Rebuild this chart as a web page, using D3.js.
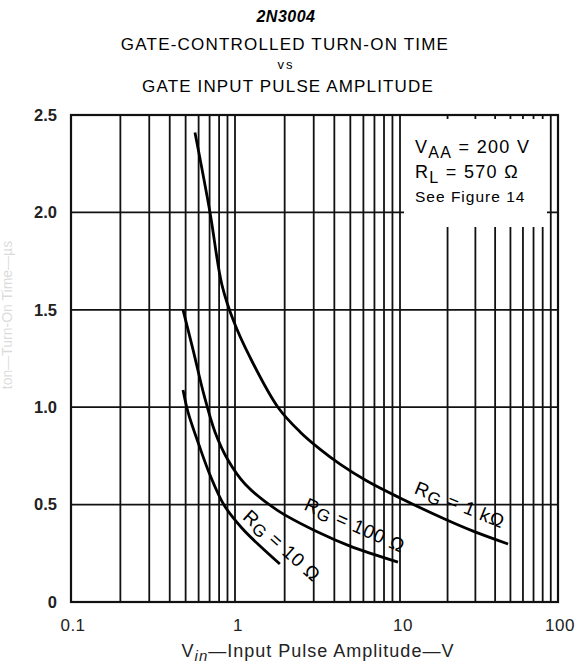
<!DOCTYPE html>
<html>
<head>
<meta charset="utf-8">
<script src="https://cdn.jsdelivr.net/npm/d3@7"></script>
<style>
  body { margin: 0; background: #fff; }
  svg { font-family: "Liberation Sans", Arial, sans-serif; }
</style>
</head>
<body>
<div id="chart"></div>
<script>
// curve readings (Vin in volts, turn-on time in µs)
const rg1kX = [0.57, 0.704, 0.833, 0.986, 1.23, 1.82, 2.48, 3.27, 4.33, 6.31, 10, 19.8, 29, 48.3];
const rg1kY = [2.41, 2.0, 1.627, 1.437, 1.258, 1.0, 0.873, 0.785, 0.708, 0.621, 0.534, 0.421, 0.364, 0.298];
const rg100X = [0.482, 0.555, 0.647, 0.755, 0.906, 1.15, 1.80, 3.27, 4.98, 9.72];
const rg100Y = [1.5, 1.294, 1.063, 0.873, 0.729, 0.606, 0.472, 0.354, 0.287, 0.205];
const rg10X = [0.482, 0.517, 0.603, 0.704, 0.857, 1.10, 1.44, 1.87];
const rg10Y = [1.088, 0.975, 0.806, 0.652, 0.498, 0.380, 0.282, 0.195];

const xTicks = [0.1, 1, 10, 100];
const xTickLabels = ["0.1", "1", "10", "100"];
const yTicks = [0, 0.5, 1.0, 1.5, 2.0, 2.5];
const yTickLabels = ["0", "0.5", "1.0", "1.5", "2.0", "2.5"];

const curveLabels = [
  { name: "1 kΩ", x: 24, y: 0.50, angle: 22 },
  { name: "100 Ω", x: 5.33, y: 0.395, angle: 24 },
  { name: "10 Ω", x: 1.93, y: 0.29, angle: 42 }
];

const width = 577, height = 666;

const svg = d3.select("#chart").append("svg")
  .attr("width", width)
  .attr("height", height);

// scanned paper: decades are not quite even, so piecewise log scale
const x = d3.scaleLog()
  .domain([0.1, 1, 10, 100])
  .range([71, 235, 400, 558]);
const y = d3.scaleLinear()
  .domain([0, 2.5])
  .range([602, 115]);

// titles
svg.append("text").attr("x", 286).attr("y", 22)
  .attr("text-anchor", "middle").attr("font-size", 16)
  .attr("font-weight", "bold").attr("font-style", "italic")
  .attr("letter-spacing", 0.5)
  .text("2N3004");
svg.append("text").attr("x", 285).attr("y", 50)
  .attr("text-anchor", "middle").attr("font-size", 17)
  .attr("letter-spacing", 1.2)
  .text("GATE-CONTROLLED TURN-ON TIME");
svg.append("text").attr("x", 286).attr("y", 69)
  .attr("text-anchor", "middle").attr("font-size", 13)
  .attr("letter-spacing", 2)
  .text("vs");
svg.append("text").attr("x", 288).attr("y", 92)
  .attr("text-anchor", "middle").attr("font-size", 17)
  .attr("letter-spacing", 1.15)
  .text("GATE INPUT PULSE AMPLITUDE");

// grid
const minor = [];
[0.1, 1, 10].forEach(d => {
  for (let k = 2; k <= 9; k++) minor.push(d * k);
});
minor.push(1, 10);

svg.append("g").selectAll("line")
  .data(minor)
  .enter().append("line")
  .attr("x1", d => x(d)).attr("x2", d => x(d))
  .attr("y1", y(2.5)).attr("y2", y(0))
  .attr("stroke", "#111").attr("stroke-width", 1.8);

svg.append("g").selectAll("line")
  .data([0.5, 1.0, 1.5, 2.0])
  .enter().append("line")
  .attr("x1", x(0.1)).attr("x2", x(100))
  .attr("y1", d => y(d)).attr("y2", d => y(d))
  .attr("stroke", "#111").attr("stroke-width", 1.8);

// note box covers the grid
svg.append("rect")
  .attr("x", 404).attr("y", 119).attr("width", 143).attr("height", 108)
  .attr("fill", "#fff");

svg.append("rect")
  .attr("x", x(0.1)).attr("y", y(2.5))
  .attr("width", x(100) - x(0.1)).attr("height", y(0) - y(2.5))
  .attr("fill", "none").attr("stroke", "#111").attr("stroke-width", 2.2);

const note = svg.append("g").attr("font-size", 18).attr("letter-spacing", 1.3);
const t1 = note.append("text").attr("x", 415).attr("y", 153);
t1.append("tspan").text("V");
t1.append("tspan").attr("dy", 5).attr("font-size", 16).text("AA");
t1.append("tspan").attr("dy", -5).text(" = 200 V");
const t2 = note.append("text").attr("x", 415).attr("y", 178);
t2.append("tspan").text("R");
t2.append("tspan").attr("dy", 5).attr("font-size", 16).text("L");
t2.append("tspan").attr("dy", -5).text(" = 570 Ω");
note.append("text").attr("x", 415).attr("y", 202)
  .attr("font-size", 15.5).attr("letter-spacing", 1)
  .text("See Figure 14");

// curves
const line = d3.line()
  .x(d => x(d[0]))
  .y(d => y(d[1]))
  .curve(d3.curveCatmullRom.alpha(0.5));

[[rg1kX, rg1kY], [rg100X, rg100Y], [rg10X, rg10Y]].forEach(s => {
  svg.append("path")
    .datum(s[0].map((v, i) => [v, s[1][i]]))
    .attr("d", line)
    .attr("fill", "none")
    .attr("stroke", "#000")
    .attr("stroke-width", 2.8);
});

curveLabels.forEach(c => {
  const t = svg.append("text")
    .attr("transform", `translate(${x(c.x)},${y(c.y)}) rotate(${c.angle})`)
    .attr("text-anchor", "middle")
    .attr("dy", "0.35em")
    .attr("font-size", 19)
    .attr("letter-spacing", 0.8);
  t.append("tspan").text("R");
  t.append("tspan").attr("dy", 3).attr("font-size", 17).text("G");
  t.append("tspan").attr("dy", -3).text(" = " + c.name);
});

// tick labels
svg.append("g").selectAll("text")
  .data(yTicks)
  .enter().append("text")
  .attr("x", 57).attr("y", d => y(d))
  .attr("dy", "0.35em")
  .attr("text-anchor", "end")
  .attr("font-size", 16.5).attr("font-weight", "bold").attr("fill", "#222")
  .text((d, i) => yTickLabels[i]);

svg.append("g").selectAll("text")
  .data(xTicks)
  .enter().append("text")
  .attr("x", d => x(d) + (d === 0.1 ? 2 : d === 100 ? 2 : 3))
  .attr("y", 631)
  .attr("text-anchor", "middle")
  .attr("font-size", 17).attr("fill", "#222")
  .attr("letter-spacing", 0.5)
  .text((d, i) => xTickLabels[i]);

const xt = svg.append("text").attr("x", 318).attr("y", 657)
  .attr("text-anchor", "middle").attr("font-size", 18).attr("fill", "#222")
  .attr("letter-spacing", 1);
xt.append("tspan").text("V");
xt.append("tspan").attr("dy", 4).attr("font-size", 15).attr("font-style", "italic").text("in");
xt.append("tspan").attr("dy", -4).text("—Input Pulse Amplitude—V");

// y title is almost faded out on the scan
svg.append("text")
  .attr("transform", "translate(12,315) rotate(-90)")
  .attr("text-anchor", "middle").attr("font-size", 14)
  .attr("fill", "#000").attr("opacity", 0.14)
  .text("ton—Turn-On Time—µs");
</script>
</body>
</html>
